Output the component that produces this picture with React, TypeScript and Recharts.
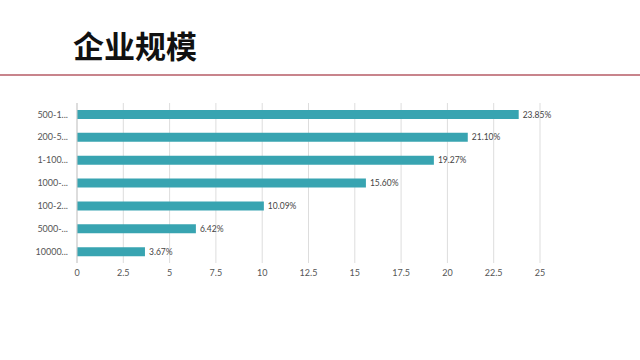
import React from "react";
import { BarChart, Bar, XAxis, YAxis, CartesianGrid, LabelList } from "recharts";

const categories = ["500-1...", "200-5...", "1-100...", "1000-...", "100-2...", "5000-...", "10000..."];
const values = [23.85, 21.1, 19.27, 15.6, 10.09, 6.42, 3.67];
const xTicks = [0, 2.5, 5, 7.5, 10, 12.5, 15, 17.5, 20, 22.5, 25];

const data = categories.map((c, i) => ({ name: c, value: values[i] }));

export default function App() {
  return (
    <div style={{ position: "absolute", left: 0, top: 0, width: 640, height: 360, background: "#fff", overflow: "hidden" }}>
      <div
        style={{
          position: "absolute",
          left: 73,
          top: 29,
          fontFamily: "'Noto Sans CJK SC', sans-serif",
          fontWeight: 700,
          fontSize: 31,
          lineHeight: 1,
          color: "#111",
        }}
      >
        企业规模
      </div>
      <div style={{ position: "absolute", left: 0, top: 74, width: 640, height: 2, background: "#c8848c" }} />
      <div style={{ position: "absolute", left: 0, top: 0 }}>
        <BarChart
          width={640}
          height={360}
          data={data}
          layout="vertical"
          margin={{ top: 103, right: 100, bottom: 77, left: 0 }}
          barCategoryGap={0}
        >
          <CartesianGrid horizontal={false} stroke="#dddddd" />
          <XAxis
            type="number"
            domain={[0, 25]}
            ticks={xTicks}
            axisLine={false}
            tickLine={false}
            height={20}
            tick={{ fontSize: 9, fill: "#555", fontFamily: "Lato, sans-serif" }}
            tickMargin={1}
            interval={0}
          />
          <YAxis
            type="category"
            dataKey="name"
            width={77}
            axisLine={{ stroke: "#cccccc" }}
            tickLine={false}
            tick={{ fontSize: 9, fill: "#555", fontFamily: "Lato, sans-serif" }}
            tickMargin={3}
          />
          <Bar dataKey="value" fill="#38a4b1" barSize={9} isAnimationActive={false}>
            <LabelList
              dataKey="value"
              position="right"
              offset={4}
              formatter={(v: any) => Number(v).toFixed(2) + "%"}
              style={{ fontSize: 8.5, fill: "#444", fontFamily: "Lato, sans-serif" }}
            />
          </Bar>
        </BarChart>
      </div>
    </div>
  );
}
